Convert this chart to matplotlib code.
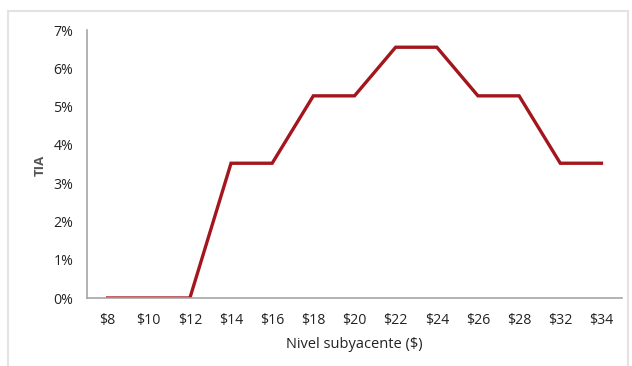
import matplotlib.pyplot as plt
from matplotlib.patches import Rectangle
from matplotlib.ticker import FuncFormatter

# strike levels and TIA values (%)
niveles = ["$8", "$10", "$12", "$14", "$16", "$18", "$20", "$22", "$24", "$26", "$28", "$32", "$34"]
tia = [0.0, 0.0, 0.0, 3.52, 3.52, 5.28, 5.28, 6.55, 6.55, 5.28, 5.28, 3.52, 3.52]

plt.rcParams['font.family'] = ['Open Sans', 'DejaVu Sans']

fig = plt.figure(figsize=(6.32, 3.66), dpi=100)
ax = fig.add_axes([87 / 632, 1 - 298 / 366, (622 - 87) / 632, (298 - 30) / 366])

x = range(len(niveles))
ax.plot(x, tia, color='#A3161E', linewidth=2.4, solid_joinstyle='miter')

ax.set_xlim(-0.5, len(niveles) - 0.5)
ax.set_ylim(0, 7)
ax.set_xticks(list(x))
ax.set_xticklabels(niveles)
ax.set_yticks(range(0, 8))
ax.yaxis.set_major_formatter(FuncFormatter(lambda v, p: f"{int(v)}%"))
ax.tick_params(length=0, labelsize=10.2, colors='#222222')
ax.tick_params(axis='x', pad=11)
ax.tick_params(axis='y', pad=10)

for s in ['top', 'right']:
    ax.spines[s].set_visible(False)
for s in ['left', 'bottom']:
    ax.spines[s].set_color('#A6A6A6')
    ax.spines[s].set_linewidth(1.2)

ax.set_xlabel("Nivel subyacente ($)", fontsize=10.5, color='#222222', labelpad=6)
fig.text(40 / 632, 1 - 165 / 366, "TIA", rotation=90, fontsize=9.5, fontweight='bold',
         color='#555555', ha='center', va='center')

# light outer frame
fig.patches.append(Rectangle((8 / 632, -0.05), 620 / 632, 1 - 11 / 366 + 0.05,
                             transform=fig.transFigure, fill=False,
                             edgecolor='#E3E3E3', linewidth=1.5))

fig.savefig("out.png", dpi=100)
